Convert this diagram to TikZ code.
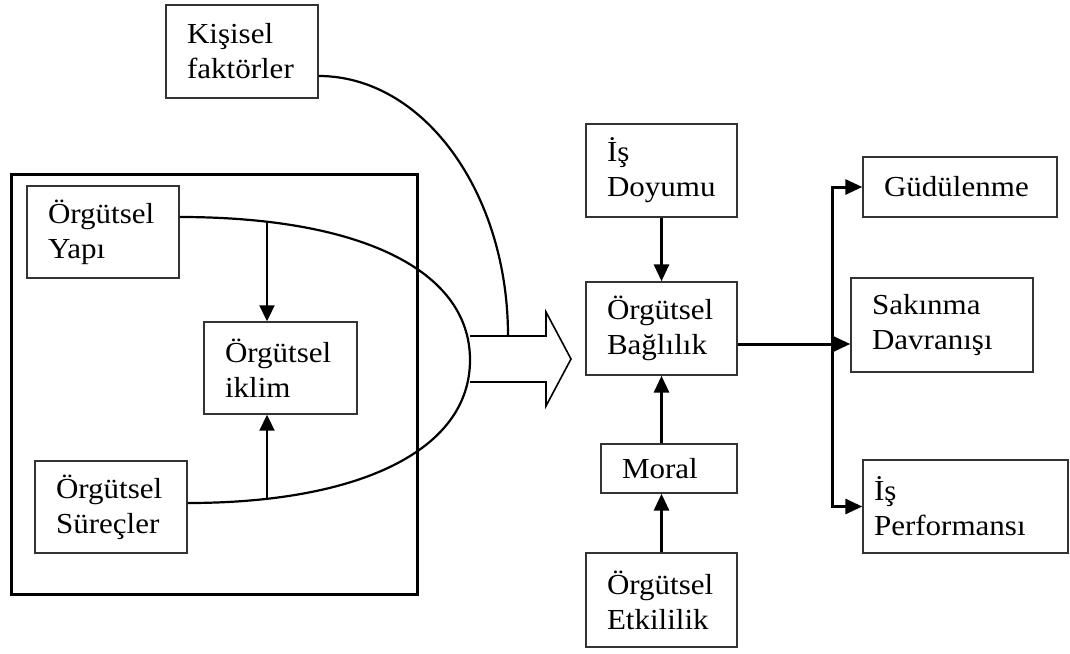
\documentclass[tikz,border=0pt]{standalone}
\usepackage{fontspec}
\setmainfont{Liberation Serif}[FakeStretch=1.07]
\usetikzlibrary{arrows.meta}

\tikzset{
  kutu/.style={draw=black!80, line width=0.7pt, align=left, inner xsep=10.5pt, inner ysep=0pt,
    font=\fontsize{14.5}{17.5}\selectfont},
  ok/.style={line width=1.5pt, -{Triangle[length=8.5pt,width=7.5pt]}},
  inceok/.style={line width=1pt, -{Triangle[length=8pt,width=7.5pt]}},
  egri/.style={line width=1.1pt},
}

\begin{document}
\begin{tikzpicture}[x=0.5pt, y=-0.5pt]
	%%%%% START %%%%%
	\useasboundingbox (0,0) rectangle (1070,653);
	
	\draw[line width=1.5pt] (11,174) rectangle (417,594);
	
	\node[kutu, text width=55pt, minimum height=46.5pt] (kisisel) at (242,51.5) {Kişisel\\faktörler};
	\node[kutu, text width=55pt, minimum height=46pt] (yapi) at (103,232) {Örgütsel\\Yapı};
	\node[kutu, text width=55.5pt, minimum height=46pt] (iklim) at (280.5,368) {Örgütsel\\iklim};
	\node[kutu, text width=55pt, minimum height=46pt] (surecler) at (111,507) {Örgütsel\\Süreçler};
	
	\node[kutu, text width=54.5pt, minimum height=46.5pt] (doyum) at (661.5,170.5) {İş\\Doyumu};
	\node[kutu, text width=54.5pt, minimum height=46.5pt] (baglilik) at (661.5,328.5) {Örgütsel\\Bağlılık};
	\node[kutu, text width=47pt, minimum height=24.5pt] (moral) at (669,468.5) {Moral};
	\node[kutu, text width=54.5pt, minimum height=47pt] (etkililik) at (661.5,600) {Örgütsel\\Etkililik};
	
	\node[kutu, text width=76pt, minimum height=30pt] (gudulenme) at (960,187) {Güdülenme};
	\node[kutu, text width=70pt, minimum height=47pt] (sakinma) at (942,325) {Sakınma\\Davranışı};
	\node[kutu, inner xsep=5.5pt, text width=91.5pt, minimum height=46.5pt] (performans) at (965.5,506.5) {İş\\Performansı};
	
	% egriler
	\draw[egri] ([yshift=7.5pt]yapi.east) .. controls (360,217) and (470,270) .. (470,360)
		.. controls (470,450) and (360,503) .. ([yshift=2pt]surecler.east);
	\coordinate (giris) at (508,336);
	\draw[egri] ([yshift=-12.25pt]kisisel.east) .. controls (423,76) and (508,192) .. (giris);
	
	\coordinate (ust) at (267,222);
	\coordinate (alt) at (267,498);
	\draw[inceok] (ust) -- (ust |- iklim.north);
	\draw[inceok] (alt) -- (alt |- iklim.south);
	
	% buyuk ok
	\draw[line width=0.8pt] (470,336) -- (546,336) -- (546,312) -- (571,359) -- (546,406) -- (546,382) -- (470,382);
	
	\draw[ok] (doyum) -- (baglilik);
	\draw[ok] (etkililik.north) -- (etkililik.north |- moral.south);
	\draw[ok] (etkililik.north |- moral.north) -- (baglilik.south);
	
	\coordinate (kol) at (832,344);
	\draw[ok] (baglilik.east |- kol) -- (sakinma.west |- kol);
	\draw[ok] (kol) |- (gudulenme.west);
	\draw[ok] (kol) |- (performans.west);
	%%%%% END %%%%%
\end{tikzpicture}
\end{document}
